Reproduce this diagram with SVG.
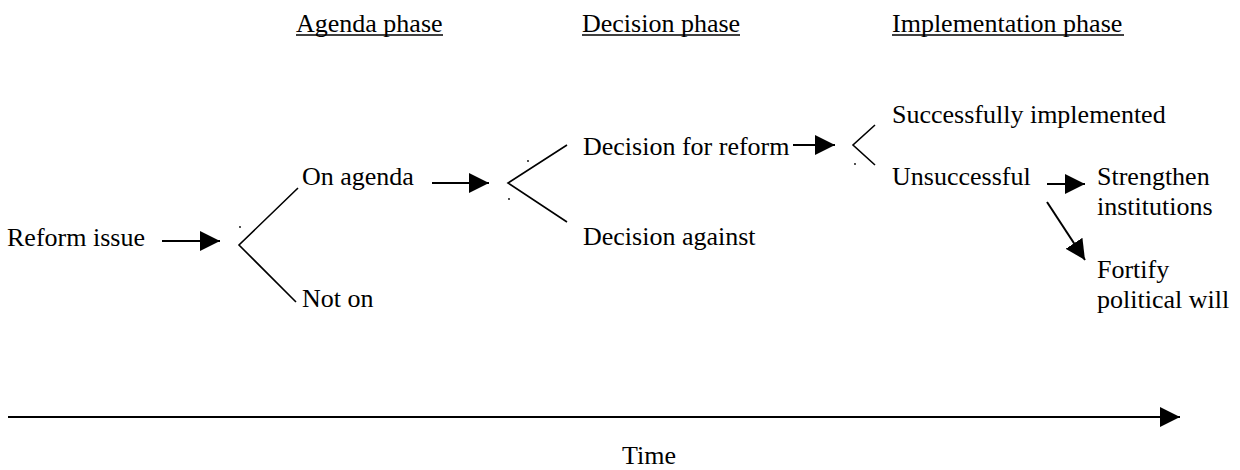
<svg xmlns="http://www.w3.org/2000/svg" width="1240" height="470" viewBox="0 0 1240 470">
<defs>
<style>
text{font-family:"Liberation Serif","Times New Roman",serif;font-size:26px;fill:#000}
.br{stroke:#000;stroke-width:1.6;fill:none}
.ar{stroke:#000;stroke-width:2;fill:none;marker-end:url(#ah)}
.ul{stroke:#000;stroke-width:1.6}
.dot{fill:#000}
</style>
<marker id="ah" viewBox="0 0 20 20" markerWidth="20" markerHeight="20" refX="20" refY="10" markerUnits="userSpaceOnUse" orient="auto">
<path d="M0,0 L20,10 L0,20 z" fill="#000"/>
</marker>
</defs>
<rect width="1240" height="470" fill="#fff"/>
<g id="headers">
<g id="h-agenda"><text x="296" y="32">Agenda phase</text><line class="ul" x1="296" y1="35" x2="443" y2="35"/></g>
<g id="h-decision"><text x="582" y="32">Decision phase</text><line class="ul" x1="582" y1="35" x2="740" y2="35"/></g>
<g id="h-impl"><text x="892" y="32">Implementation phase</text><line class="ul" x1="892" y1="35" x2="1124" y2="35"/></g>
</g>
<g id="n-reform"><text x="7" y="246">Reform issue</text></g>
<g id="n-onagenda"><text x="302" y="185">On agenda</text></g>
<g id="n-noton"><text x="302" y="307">Not on</text></g>
<g id="n-decfor"><text x="583" y="155">Decision for reform</text></g>
<g id="n-decagainst"><text x="583" y="245">Decision against</text></g>
<g id="n-success"><text x="892" y="123">Successfully implemented</text></g>
<g id="n-unsuccess"><text x="892" y="185">Unsuccessful</text></g>
<g id="n-strengthen"><text x="1097" y="185">Strengthen</text><text x="1097" y="215">institutions</text></g>
<g id="n-fortify"><text x="1097" y="278">Fortify</text><text x="1097" y="308">political will</text></g>
<g id="n-time"><text x="622" y="464">Time</text></g>
<g id="connectors">
<line class="ar" x1="162" y1="241" x2="220" y2="241"/>
<polyline class="br" points="298,188 239,245 296,302"/>
<circle class="dot" cx="240" cy="227" r="0.9"/>
<line class="ar" x1="432" y1="183" x2="489" y2="183"/>
<polyline class="br" points="567,145 508,183 567,222"/>
<circle class="dot" cx="528" cy="161" r="0.9"/>
<circle class="dot" cx="509" cy="199" r="0.9"/>
<line class="ar" x1="793" y1="145" x2="835" y2="145"/>
<polyline class="br" points="875,125 853,145 875,165"/>
<circle class="dot" cx="855" cy="164" r="0.9"/>
<line class="ar" x1="1047" y1="184" x2="1085" y2="184"/>
<line class="ar" x1="1047" y1="202" x2="1085" y2="260"/>
<line class="ar" x1="8" y1="417" x2="1180" y2="417"/>
</g>
</svg>
